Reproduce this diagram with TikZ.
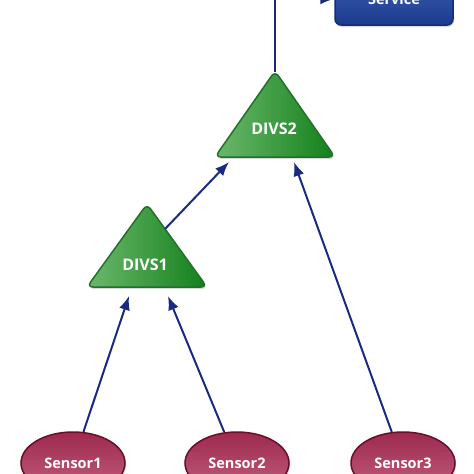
\documentclass[tikz,border=0pt]{standalone}
\usepackage{fontspec}
\setmainfont{Open Sans}
\usetikzlibrary{arrows.meta,shapes.geometric,shadows}
\definecolor{navy}{HTML}{1A2A80}
\definecolor{gLight}{HTML}{6CB86C}
\definecolor{gDark}{HTML}{12801A}
\definecolor{gEdge}{HTML}{22702A}
\definecolor{sTop}{HTML}{9C2A4E}
\definecolor{sBot}{HTML}{C45F7E}
\definecolor{sEdge}{HTML}{6A0E2E}
\definecolor{bTop}{HTML}{3C62B8}
\definecolor{bBot}{HTML}{1C3A8C}
\definecolor{bEdge}{HTML}{132C78}
\tikzset{
  lbl/.style={text=white,font=\bfseries\fontsize{14.5}{17}\selectfont},
  divlbl/.style={text=white,font=\bfseries\fontsize{16}{18}\selectfont},
  divs/.style={draw=gEdge,line width=1.5pt,rounded corners=6pt,left color=gLight,right color=gDark,
    drop shadow={shadow xshift=1pt,shadow yshift=-2pt,opacity=0.3}},
  sensor/.style={ellipse,draw=sEdge,line width=1.5pt,top color=sTop,bottom color=sBot,
    minimum width=104pt,minimum height=62pt,lbl,
    drop shadow={shadow xshift=1pt,shadow yshift=-2pt,opacity=0.3}},
  svcbox/.style={rectangle,rounded corners=6pt,draw=bEdge,line width=1.5pt,top color=bTop,bottom color=bBot,
    minimum width=118pt,minimum height=52pt,lbl,
    drop shadow={shadow xshift=1pt,shadow yshift=-2pt,opacity=0.3}},
  conn/.style={draw=navy,line width=2pt,-{Latex[length=14pt,width=11pt]}}
}
\begin{document}
\begin{tikzpicture}[x=1pt,y=-1pt]
\useasboundingbox (0,0) rectangle (474,474);
\clip (0,0) rectangle (474,474);
% Service box
\node[svcbox] (svc) at (394,-1) {Service};
% DIVS2 triangle
\path[divs] (275,71) -- (335,157) -- (215,157) -- cycle;
\node[divlbl] (d2) at (274,129) {DIVS2};
\coordinate (d2top) at (275,72);
\coordinate (d2in1) at (229,162);
\coordinate (d2in3) at (294,162);
% DIVS1 triangle
\path[divs] (147,204) -- (207,287) -- (87,287) -- cycle;
\node[divlbl] (d1) at (145,265) {DIVS1};
\coordinate (d1out) at (165,229);
\coordinate (d1in1) at (129,296);
\coordinate (d1in2) at (168,296);
% Sensors
\node[sensor] (s1) at (73,463) {Sensor1};
\node[sensor] (s2) at (237,463) {Sensor2};
\node[sensor] (s3) at (403,463) {Sensor3};
% Connectors
\draw[conn] (s1) -- (d1in1);
\draw[conn] (s2) -- (d1in2);
\draw[conn] (s3) -- (d2in3);
\draw[conn] (d1out) -- (d2in1);
\draw[conn] (d2top) |- (svc.west);
\end{tikzpicture}
\end{document}
